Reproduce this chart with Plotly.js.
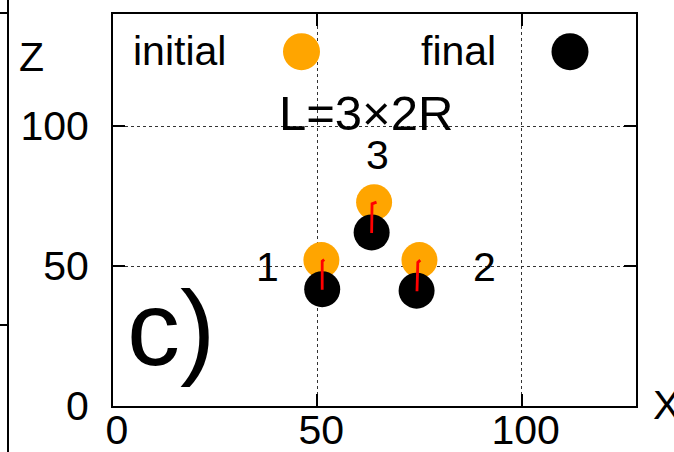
<!DOCTYPE html>
<html>
<head>
<meta charset="utf-8">
<script src="https://cdn.plot.ly/plotly-3.0.1.min.js"></script>
<style>html,body{margin:0;padding:0;background:#fff;}#chart{width:674px;height:452px;}</style>
</head>
<body>
<div id="chart"></div>
<script>
// Data
const initialX = [51.0, 75.0, 63.9];
const initialZ = [52.1, 52.1, 72.8];
const finalX = [51.2, 74.3, 63.3];
const finalZ = [41.7, 41.2, 62.0];
// trajectories (initial -> final), per particle
const traj1X = [51.7, 51.2, 51.2];
const traj1Z = [52.3, 51.7, 41.5];
const traj2X = [75.2, 74.6, 74.4];
const traj2Z = [52.1, 51.3, 41.0];
const traj3X = [64.5, 63.4, 63.3];
const traj3Z = [72.8, 72.2, 61.8];
const particleLabels = ["1", "2", "3"];
const labelX = [37.8, 90.8, 64.7];
const labelZ = [49.5, 49.5, 89.6];
const tickVals = [0, 50, 100];
const tickText = ["0", "50", "100"];

const FONT = "Liberation Sans, Arial, sans-serif";

const traces = [
  {x: initialX, y: initialZ, mode: "markers", type: "scatter", name: "initial",
   marker: {color: "#FFA500", size: 36, line: {width: 0}}, showlegend: false},
  {x: finalX, y: finalZ, mode: "markers", type: "scatter", name: "final",
   marker: {color: "#000000", size: 36, line: {width: 0}}, showlegend: false},
  {x: traj1X, y: traj1Z, mode: "lines", type: "scatter", line: {color: "#FF0000", width: 2.8}, showlegend: false},
  {x: traj2X, y: traj2Z, mode: "lines", type: "scatter", line: {color: "#FF0000", width: 2.8}, showlegend: false},
  {x: traj3X, y: traj3Z, mode: "lines", type: "scatter", line: {color: "#FF0000", width: 2.8}, showlegend: false}
];

const annotations = particleLabels.map((t, i) => ({
  x: labelX[i], y: labelZ[i], xref: "x", yref: "y", text: t, showarrow: false,
  font: {family: FONT, size: 41, color: "#000"}, xanchor: "center", yanchor: "middle"
}));
annotations.push(
  {x: (366 - 113) / 523, y: (406 - 113) / 392, xref: "paper", yref: "paper", text: "L=3×2R", showarrow: false,
   font: {family: FONT, size: 49, color: "#000"}, xanchor: "center", yanchor: "middle"},
  {x: (228 - 113) / 523, y: (406 - 51) / 392, xref: "paper", yref: "paper", text: "initial", showarrow: false,
   font: {family: FONT, size: 41, color: "#000"}, xanchor: "right", yanchor: "middle"},
  {x: (498 - 113) / 523, y: (406 - 51) / 392, xref: "paper", yref: "paper", text: "final", showarrow: false,
   font: {family: FONT, size: 41, color: "#000"}, xanchor: "right", yanchor: "middle"},
  {x: (125 - 113) / 523, y: (406 - 328) / 392, xref: "paper", yref: "paper", text: "c)", showarrow: false,
   font: {family: FONT, size: 106, color: "#000"}, xanchor: "left", yanchor: "middle"},
  {x: (31 - 113) / 523, y: (406 - 57) / 392, xref: "paper", yref: "paper", text: "Z", showarrow: false,
   font: {family: FONT, size: 41, color: "#000"}, xanchor: "center", yanchor: "middle"},
  {x: (666 - 113) / 523, y: (406 - 405) / 392, xref: "paper", yref: "paper", text: "X", showarrow: false,
   font: {family: FONT, size: 41, color: "#000"}, xanchor: "center", yanchor: "middle"}
);

const px2x = p => (p - 113) / 523;
const px2y = p => (406 - p) / 392;

const shapes = [
  // white legend box hiding gridlines
  {type: "rect", xref: "paper", yref: "paper", x0: 0, x1: 1, y0: px2y(73), y1: 1,
   fillcolor: "#fff", line: {width: 0}, layer: "between"},
  // legend keys
  {type: "circle", xref: "paper", yref: "paper", xsizemode: "pixel", ysizemode: "pixel",
   xanchor: px2x(301.5), yanchor: px2y(51.7), x0: -18.5, x1: 18.5, y0: -18.5, y1: 18.5,
   fillcolor: "#FFA500", line: {width: 0}, layer: "above"},
  {type: "circle", xref: "paper", yref: "paper", xsizemode: "pixel", ysizemode: "pixel",
   xanchor: px2x(570), yanchor: px2y(51.7), x0: -18.5, x1: 18.5, y0: -18.5, y1: 18.5,
   fillcolor: "#000", line: {width: 0}, layer: "above"},
  // fragment of neighbouring panel on the left
  {type: "line", xref: "paper", yref: "paper", x0: px2x(8), x1: px2x(8), y0: px2y(0), y1: px2y(452),
   line: {color: "#000", width: 2}},
  {type: "line", xref: "paper", yref: "paper", x0: px2x(0), x1: px2x(8), y0: px2y(13), y1: px2y(13),
   line: {color: "#000", width: 2}},
  {type: "line", xref: "paper", yref: "paper", x0: px2x(0), x1: px2x(8), y0: px2y(325), y1: px2y(325),
   line: {color: "#000", width: 2}}
];

const axisCommon = {
  showline: true, linecolor: "#000", linewidth: 2, mirror: "ticks",
  ticks: "inside", ticklen: 12, tickwidth: 2, tickcolor: "#000",
  showgrid: true, gridcolor: "#333", gridwidth: 1, griddash: "dot",
  zeroline: false, tickmode: "array", tickvals: tickVals, ticktext: tickText,
  tickfont: {family: FONT, size: 41, color: "#000"}, fixedrange: true
};

const layout = {
  width: 674, height: 452,
  margin: {l: 113, r: 38, t: 14, b: 46, pad: 0},
  paper_bgcolor: "#fff", plot_bgcolor: "#fff",
  showlegend: false,
  xaxis: Object.assign({}, axisCommon, {range: [0, 128], ticklabelshift: 4, ticklabelstandoff: -13}),
  yaxis: Object.assign({}, axisCommon, {range: [0, 140], ticklabelstandoff: 14}),
  annotations: annotations,
  shapes: shapes
};

Plotly.newPlot("chart", traces, layout, {displayModeBar: false, staticPlot: true});
</script>
</body>
</html>
